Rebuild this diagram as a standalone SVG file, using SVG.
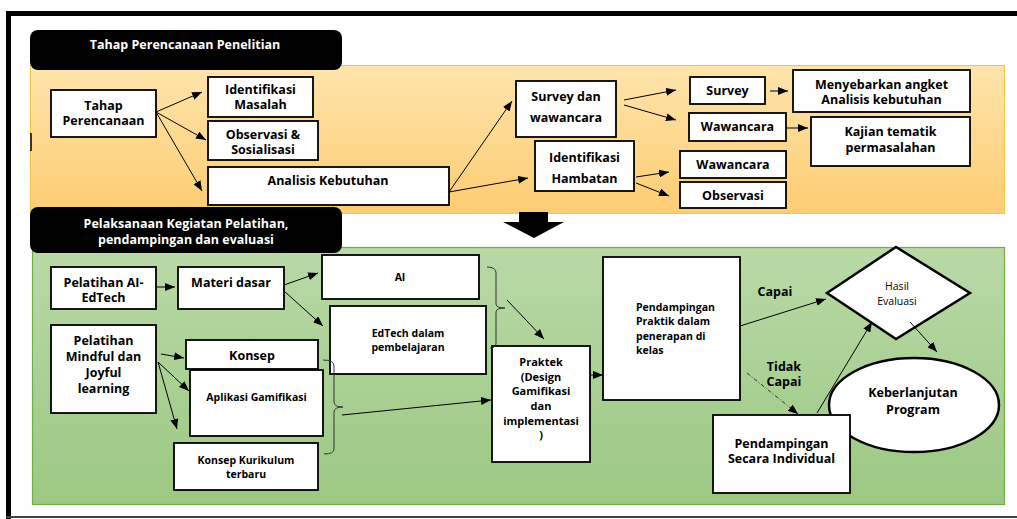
<svg xmlns="http://www.w3.org/2000/svg" width="1017" height="519" viewBox="0 0 1017 519">
<style>
.box{fill:#fff;stroke:#000;stroke-width:1.8}
.t{font-family:"Open Sans",Lato,"DejaVu Sans",sans-serif;font-weight:700;font-size:12.5px;fill:#000;text-anchor:middle}
.s{font-size:10.5px}
.m{font-size:11px}
.n{font-weight:400}
.w{fill:#fff}
.l{text-anchor:start}
.c{stroke:#000;stroke-width:1;fill:none}
.br{stroke:#333;stroke-width:1;fill:none}
</style>
<defs>
<linearGradient id="gy" x1="0" y1="0" x2="0" y2="1">
<stop offset="0" stop-color="#fee4ac"/>
<stop offset="1" stop-color="#fccd72"/>
</linearGradient>
<linearGradient id="gg" x1="0" y1="0" x2="0" y2="1">
<stop offset="0" stop-color="#b9d9a7"/>
<stop offset="1" stop-color="#9cc883"/>
</linearGradient>
<marker id="a" viewBox="0 0 10 8" refX="10" refY="4" markerWidth="10" markerHeight="8" markerUnits="userSpaceOnUse" orient="auto">
<path d="M0,0 L10,4 L0,8 z" fill="#000"/>
</marker>
</defs>
<rect width="1017" height="519" fill="#fff"/>
<g id="frame">
<line x1="6" y1="13.5" x2="1017" y2="13.5" stroke="#000" stroke-width="5"/>
<line x1="8.5" y1="11" x2="8.5" y2="519" stroke="#000" stroke-width="5"/>
<line x1="6" y1="517" x2="1017" y2="517" stroke="#444" stroke-width="2"/>
</g>
<g id="panel-planning">
<rect x="30.5" y="65.5" width="974" height="148" fill="url(#gy)" stroke="#f6c444" stroke-width="1"/>
<line x1="31" y1="133" x2="31" y2="151" stroke="#000" stroke-width="1.5"/>
</g>
<g id="panel-execution">
<rect x="32.5" y="247.5" width="972" height="257" fill="url(#gg)" stroke="#70ad47" stroke-width="1.2"/>
</g>
<g id="header-1">
<rect x="30" y="30" width="312" height="40" rx="8" fill="#000"/>
<text class="t w" x="185" y="49" font-size="12">Tahap Perencanaan Penelitian</text>
</g>
<g id="header-2">
<rect x="30" y="207" width="312" height="46" rx="8" fill="#000"/>
<text class="t w" x="186" y="228" font-size="12">Pelaksanaan Kegiatan Pelatihan,</text>
<text class="t w" x="186" y="244" font-size="12">pendampingan dan evaluasi</text>
</g>
<g id="down-arrow">
<path d="M519,212 H548 V222 H564 L534,238 L503,222 H519 Z" fill="#000"/>
</g>
<g id="n-tahap">
<rect class="box" x="51" y="90" width="105" height="47"/>
<text class="t" x="103.5" y="109.5">Tahap</text>
<text class="t" x="103.5" y="125">Perencanaan</text>
</g>
<g id="n-identifikasi-masalah">
<rect class="box" x="208" y="77" width="105" height="40"/>
<text class="t" x="260.5" y="93.5">Identifikasi</text>
<text class="t" x="260.5" y="108.5">Masalah</text>
</g>
<g id="n-observasi-sosialisasi">
<rect class="box" x="208" y="121" width="110" height="39"/>
<text class="t" x="263" y="138.5">Observasi &amp;</text>
<text class="t" x="263" y="153.5">Sosialisasi</text>
</g>
<g id="n-analisis">
<rect class="box" x="208" y="167" width="241" height="38"/>
<text class="t" x="328" y="184.5">Analisis Kebutuhan</text>
</g>
<g id="n-survey-wawancara">
<rect class="box" x="516" y="81" width="100" height="56"/>
<text class="t" x="566" y="100.5">Survey dan</text>
<text class="t" x="566" y="121.5">wawancara</text>
</g>
<g id="n-identifikasi-hambatan">
<rect class="box" x="535" y="141" width="99" height="50"/>
<text class="t" x="584.5" y="161.5">Identifikasi</text>
<text class="t" x="584.5" y="182.5">Hambatan</text>
</g>
<g id="n-survey">
<rect class="box" x="690" y="77" width="75" height="27"/>
<text class="t" x="727.5" y="94.5">Survey</text>
</g>
<g id="n-wawancara-1">
<rect class="box" x="689" y="113" width="97" height="28"/>
<text class="t" x="737.5" y="130.5">Wawancara</text>
</g>
<g id="n-menyebarkan">
<rect class="box" x="793" y="70" width="177" height="42"/>
<text class="t" x="881.5" y="88.5">Menyebarkan angket</text>
<text class="t" x="881.5" y="103.5">Analisis kebutuhan</text>
</g>
<g id="n-kajian">
<rect class="box" x="811" y="117" width="159" height="49"/>
<text class="t" x="890.5" y="135.5">Kajian tematik</text>
<text class="t" x="890.5" y="151.5">permasalahan</text>
</g>
<g id="n-wawancara-2">
<rect class="box" x="680" y="151" width="106" height="27"/>
<text class="t" x="733" y="168.5">Wawancara</text>
</g>
<g id="n-observasi">
<rect class="box" x="680" y="182" width="106" height="26"/>
<text class="t" x="733" y="199.5">Observasi</text>
</g>
<g id="n-pelatihan-ai">
<rect class="box" x="51" y="267" width="105" height="42"/>
<text class="t" x="103.5" y="286.5">Pelatihan AI-</text>
<text class="t" x="103.5" y="301.5">EdTech</text>
</g>
<g id="n-materi">
<rect class="box" x="178" y="267" width="106" height="42"/>
<text class="t" x="231" y="286.5">Materi dasar</text>
</g>
<g id="n-ai">
<rect class="box" x="322" y="255" width="157" height="44"/>
<text class="t s" x="400" y="281">AI</text>
</g>
<g id="n-edtech">
<rect class="box" x="330" y="306" width="156" height="68"/>
<text class="t s" x="408" y="337">EdTech dalam</text>
<text class="t s" x="408" y="351">pembelajaran</text>
</g>
<g id="n-mindful">
<rect class="box" x="51" y="325" width="105" height="88"/>
<text class="t" x="103.5" y="344.5">Pelatihan</text>
<text class="t" x="103.5" y="360.5">Mindful dan</text>
<text class="t" x="103.5" y="376.5">Joyful</text>
<text class="t" x="103.5" y="392.5">learning</text>
</g>
<g id="n-konsep">
<rect class="box" x="186" y="340" width="132" height="29"/>
<text class="t" x="252" y="359.5">Konsep</text>
</g>
<g id="n-aplikasi">
<rect class="box" x="190" y="370" width="133" height="66"/>
<text class="t s" x="256.5" y="401">Aplikasi Gamifikasi</text>
</g>
<g id="n-kurikulum">
<rect class="box" x="174" y="443" width="144" height="47"/>
<text class="t s" x="246" y="464">Konsep Kurikulum</text>
<text class="t s" x="246" y="478">terbaru</text>
</g>
<g id="n-praktek">
<rect class="box" x="492" y="346" width="98" height="116"/>
<text class="t m" x="541" y="366">Praktek</text>
<text class="t m" x="541" y="381">(Design</text>
<text class="t m" x="541" y="395">Gamifikasi</text>
<text class="t m" x="541" y="410">dan</text>
<text class="t m" x="541" y="425">implementasi</text>
<text class="t m" x="541" y="439">)</text>
</g>
<g id="n-pendampingan-praktik">
<rect class="box" x="603" y="257" width="137" height="143"/>
<text class="t s l" x="636" y="311">Pendampingan</text>
<text class="t s l" x="636" y="325">Praktik dalam</text>
<text class="t s l" x="636" y="340">penerapan di</text>
<text class="t s l" x="636" y="354">kelas</text>
</g>
<g id="n-hasil">
<polygon points="827,293 896,247 970,293 896,339" fill="#fff" stroke="#000" stroke-width="2.5"/>
<text class="t s n" x="897" y="290">Hasil</text>
<text class="t s n" x="897" y="305">Evaluasi</text>
</g>
<g id="n-keberlanjutan">
<ellipse cx="914" cy="405" rx="85" ry="47" fill="#fff" stroke="#000" stroke-width="2.5"/>
<text class="t" x="913" y="396.5">Keberlanjutan</text>
<text class="t" x="913" y="413.5">Program</text>
</g>
<g id="n-individual">
<rect class="box" x="713" y="415" width="137" height="78"/>
<text class="t" x="781.5" y="447.5">Pendampingan</text>
<text class="t" x="781.5" y="462.5">Secara Individual</text>
</g>
<g id="labels">
<text class="t" x="775" y="295.5">Capai</text>
<text class="t" x="784" y="370.5">Tidak</text>
<text class="t" x="784" y="385.5">Capai</text>
</g>
<g id="connectors">
<line class="c" x1="156" y1="112" x2="202" y2="92" marker-end="url(#a)"/>
<line class="c" x1="156" y1="112" x2="206" y2="140" marker-end="url(#a)"/>
<line class="c" x1="156" y1="112" x2="202" y2="191" marker-end="url(#a)"/>
<line class="c" x1="449" y1="192" x2="512" y2="101" marker-end="url(#a)"/>
<line class="c" x1="449" y1="192" x2="528" y2="178" marker-end="url(#a)"/>
<line class="c" x1="624" y1="100" x2="676" y2="90" marker-end="url(#a)"/>
<line class="c" x1="624" y1="105" x2="676" y2="120" marker-end="url(#a)"/>
<line class="c" x1="636" y1="177" x2="669" y2="172" marker-end="url(#a)"/>
<line class="c" x1="636" y1="183" x2="669" y2="196" marker-end="url(#a)"/>
<line class="c" x1="770" y1="91" x2="788" y2="91" marker-end="url(#a)"/>
<line class="c" x1="786" y1="128" x2="808" y2="128" marker-end="url(#a)"/>
<line class="c" x1="157" y1="287" x2="175" y2="287" marker-end="url(#a)"/>
<line class="c" x1="284" y1="285" x2="318" y2="273" marker-end="url(#a)"/>
<line class="c" x1="284" y1="291" x2="323" y2="326" marker-end="url(#a)"/>
<line class="c" x1="161" y1="354" x2="184" y2="358" marker-end="url(#a)"/>
<line class="c" x1="158" y1="362" x2="189" y2="391" marker-end="url(#a)"/>
<line class="c" x1="158" y1="362" x2="177" y2="429" marker-end="url(#a)"/>
<path class="br" d="M487,267 Q496,267 496,273 V304 Q496,308 505,308 Q496,308 496,312 V343 Q496,348 490,348"/>
<line class="c" x1="507" y1="300" x2="544" y2="339" marker-end="url(#a)"/>
<path class="br" d="M323,360 Q334,360 334,366 V402 Q334,407 343,407 Q334,407 334,412 V449 Q334,454 324,454"/>
<line class="c" x1="342" y1="415" x2="491" y2="400" marker-end="url(#a)"/>
<line class="c" x1="590" y1="375" x2="603" y2="375" marker-end="url(#a)"/>
<line class="c" x1="740" y1="326" x2="826" y2="299" marker-end="url(#a)"/>
<line x1="747" y1="373" x2="798" y2="414" stroke="#333" stroke-width="1" stroke-dasharray="4,2,1,2" marker-end="url(#a)"/>
<line class="c" x1="817" y1="413" x2="872" y2="322" marker-end="url(#a)"/>
<line class="c" x1="910" y1="322" x2="937" y2="352" marker-end="url(#a)"/>
</g>
</svg>
